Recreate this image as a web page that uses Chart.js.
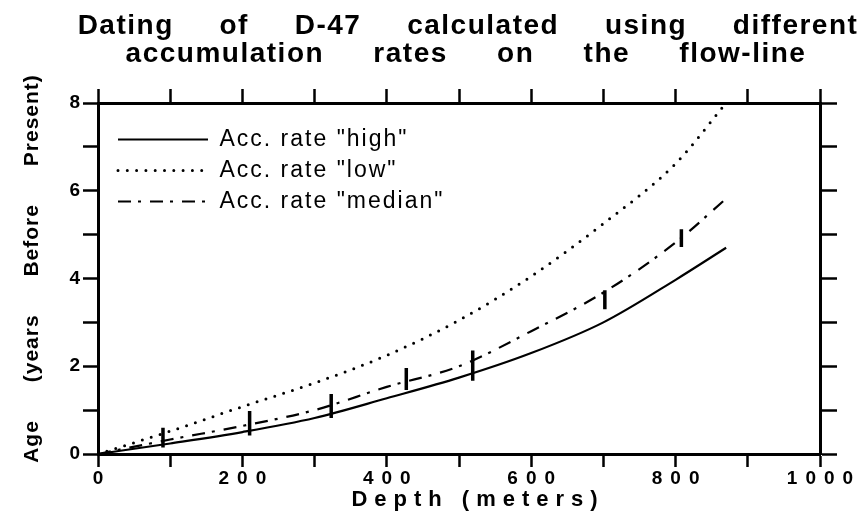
<!DOCTYPE html>
<html>
<head>
<meta charset="utf-8">
<script src="https://cdn.jsdelivr.net/npm/chart.js@4.4.1/dist/chart.umd.min.js"></script>
<style>
  html, body { margin: 0; padding: 0; background: #ffffff; }
  #chart { display: block; }
</style>
</head>
<body>
<canvas id="chart" width="860" height="524"></canvas>
<script>
// Depth along the core (m) and modelled age for three accumulation rates
const depth = [0, 100, 200, 300, 400, 500, 600, 700, 800, 870];
const ageHigh = [0, 0.24, 0.5, 0.82, 1.27, 1.74, 2.3, 3.0, 3.97, 4.7];
const ageLow = [0, 0.52, 1.08, 1.62, 2.25, 3.05, 4.05, 5.25, 6.62, 8.0];
const ageMedian = [0, 0.33, 0.64, 1.0, 1.53, 2.0, 2.8, 3.68, 4.82, 5.82];

// Dated horizons (vertical bars)
const barDepth = [90, 210, 323, 427, 519, 702, 808];
const barLow = [0.15, 0.42, 0.82, 1.46, 1.67, 3.3, 4.72];
const barHigh = [0.6, 0.98, 1.37, 1.96, 2.36, 3.73, 5.12];

const xTickLabels = [0, 200, 400, 600, 800, 1000];
const yTickLabels = [0, 2, 4, 6, 8];

const titleLine1 = 'Dating of D-47 calculated using different';
const titleLine2 = 'accumulation rates on the flow-line';

const FONT = "'Liberation Sans', Arial, Helvetica, sans-serif";

const toPoints = (xs, ys) => xs.map((x, i) => ({ x: x, y: ys[i] }));

function barPoints() {
  const pts = [];
  barDepth.forEach((d, i) => {
    pts.push({ x: d, y: barLow[i] });
    pts.push({ x: d, y: barHigh[i] });
    pts.push({ x: d, y: null });
  });
  return pts;
}

// canvas letter / word spacing for one drawing method of a chart element
function spaced(obj, name, s) {
  if (!obj || obj['_sp_' + name]) return;
  obj['_sp_' + name] = true;
  const orig = obj[name];
  obj[name] = function (...args) {
    const ctx = this.ctx;
    ctx.save();
    ctx.letterSpacing = (s.ls || 0) + 'px';
    ctx.wordSpacing = (s.ws || 0) + 'px';
    ctx.translate(s.dx || 0, s.dy || 0);
    orig.apply(this, args);
    ctx.restore();
  };
}

const spacingPlugin = {
  id: 'spacing',
  beforeDraw(chart) {
    const subtitle = chart.boxes.find(b => b.options && b.options.text === titleLine2);
    spaced(chart.titleBlock, 'draw', { ls: 1.5, ws: 36.5, dx: 38, dy: 3 });
    spaced(subtitle, 'draw', { ls: 1.5, ws: 40, dx: 36, dy: 1 });
    // legend sits in the plot, upper left
    spaced(chart.legend, 'draw', { ls: 2, dx: 12, dy: 120 });
    spaced(chart.scales.x, 'drawLabels', { ls: 8, dx: 4 });
    spaced(chart.scales.x, 'drawTitle', { ls: 7, dx: 19 });
    spaced(chart.scales.y, 'drawTitle', { ls: 1, ws: 31, dy: -10 });
  }
};

// legend swatches follow each dataset's line style
function legendLabels(chart) {
  const items = Chart.defaults.plugins.legend.labels.generateLabels(chart);
  return items.filter(it => it.datasetIndex < 3).map(it => {
    const ds = chart.data.datasets[it.datasetIndex];
    it.lineDash = ds.borderDash || [];
    it.lineWidth = ds.borderWidth;
    it.lineCap = ds.borderCapStyle || 'butt';
    it.strokeStyle = ds.borderColor;
    it.pointStyle = 'line';
    return it;
  });
}

const black = '#000000';

new Chart(document.getElementById('chart'), {
  type: 'line',
  data: {
    datasets: [
      {
        label: 'Acc. rate "high"',
        data: toPoints(depth, ageHigh),
        borderColor: black,
        borderWidth: 2.2,
        pointRadius: 0,
        cubicInterpolationMode: 'monotone'
      },
      {
        label: 'Acc. rate "low"',
        data: toPoints(depth, ageLow),
        borderColor: black,
        borderWidth: 3,
        borderDash: [0, 9.3],
        borderCapStyle: 'round',
        pointRadius: 0,
        cubicInterpolationMode: 'monotone'
      },
      {
        label: 'Acc. rate "median"',
        data: toPoints(depth, ageMedian),
        borderColor: black,
        borderWidth: 2.2,
        borderDash: [13, 7, 3, 9],
        pointRadius: 0,
        cubicInterpolationMode: 'monotone'
      },
      {
        label: 'dated horizons',
        data: barPoints(),
        borderColor: black,
        borderWidth: 3.5,
        pointRadius: 0,
        tension: 0,
        spanGaps: false
      }
    ]
  },
  options: {
    responsive: false,
    animation: false,
    events: [],
    layout: { padding: 0 },
    plugins: {
      title: {
        display: true,
        text: titleLine1,
        color: black,
        font: { family: FONT, size: 28, weight: 'bold', lineHeight: 1.2 },
        padding: { top: 6, bottom: 0 }
      },
      subtitle: {
        display: true,
        text: titleLine2,
        color: black,
        font: { family: FONT, size: 28, weight: 'bold', lineHeight: 1.0 },
        padding: { top: 0, bottom: 0 }
      },
      legend: {
        position: 'chartArea',
        align: 'start',
        labels: {
          color: black,
          font: { family: FONT, size: 23 },
          usePointStyle: true,
          pointStyle: 'line',
          pointStyleWidth: 90,
          padding: 8,
          generateLabels: legendLabels
        }
      },
      tooltip: { enabled: false }
    },
    scales: {
      x: {
        type: 'linear',
        position: 'bottom',
        min: 0,
        max: 1000,
        offset: false,
        afterFit: s => { s.height = 70; },
        ticks: {
          stepSize: 100,
          autoSkip: false,
          maxRotation: 0,
          padding: 0,
          color: black,
          font: { family: FONT, size: 19, weight: 'bold' },
          callback: v => xTickLabels.includes(v) ? String(v) : ''
        },
        grid: { offset: false, drawOnChartArea: false, tickLength: 13, tickWidth: 2.5, color: black },
        border: { display: true, width: 3, color: black },
        title: {
          display: true,
          text: 'Depth (meters)',
          color: black,
          font: { family: FONT, size: 22, weight: 'bold', lineHeight: 1.2 },
          padding: { top: 0, bottom: 11 }
        }
      },
      x2: {
        type: 'linear',
        position: 'top',
        min: 0,
        max: 1000,
        offset: false,
        afterFit: s => { s.height = 35.4; },
        ticks: { stepSize: 100, display: false },
        grid: { offset: false, drawOnChartArea: false, tickLength: 14, tickWidth: 2.5, color: black },
        border: { display: true, width: 3, color: black }
      },
      y: {
        type: 'linear',
        position: 'left',
        min: 0,
        max: 8,
        afterFit: s => { s.width = 98; },
        ticks: {
          stepSize: 1,
          autoSkip: false,
          padding: 3,
          color: black,
          font: { family: FONT, size: 19, weight: 'bold' },
          callback: v => yTickLabels.includes(v) ? String(v) : ''
        },
        grid: { drawOnChartArea: false, tickLength: 15, tickWidth: 2.5, color: black },
        border: { display: true, width: 3, color: black },
        title: {
          display: true,
          text: 'Age (years Before Present)',
          color: black,
          font: { family: FONT, size: 21, weight: 'bold', lineHeight: 1.2 },
          padding: { top: 20, bottom: 0 }
        }
      },
      y2: {
        type: 'linear',
        position: 'right',
        min: 0,
        max: 8,
        afterFit: s => { s.width = 40; },
        ticks: { stepSize: 1, display: false },
        grid: { drawOnChartArea: false, tickLength: 17, tickWidth: 2.5, color: black },
        border: { display: true, width: 3, color: black }
      }
    }
  },
  plugins: [spacingPlugin]
});
</script>
</body>
</html>
